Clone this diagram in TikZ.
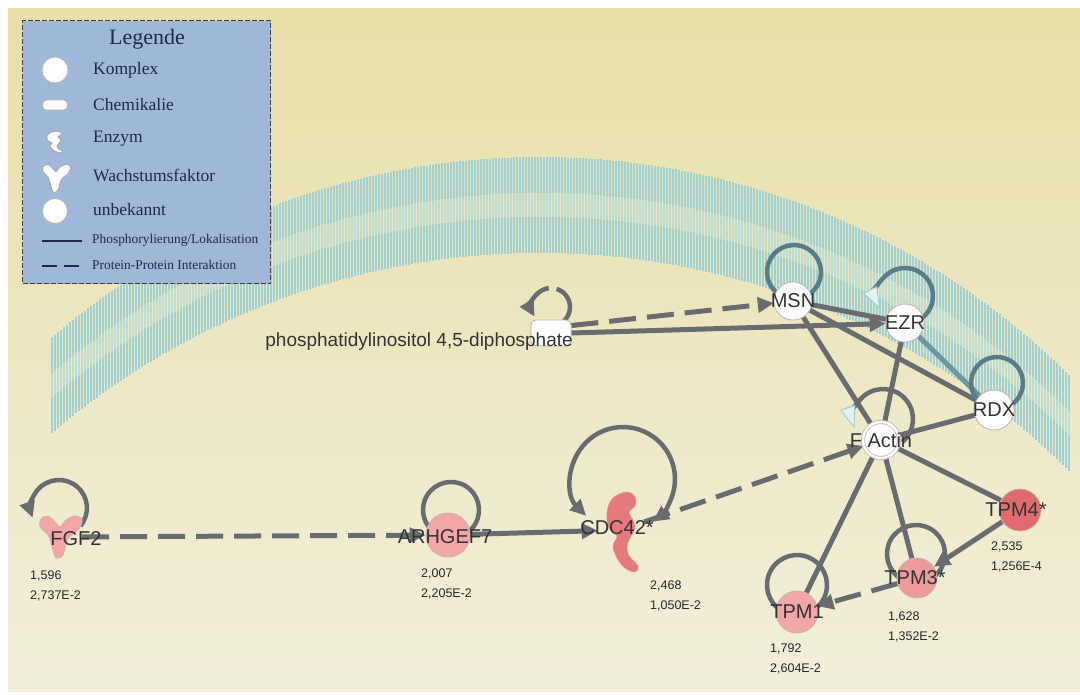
\documentclass[tikz,border=0pt]{standalone}
\usepackage{fontspec}
\setmainfont{Liberation Serif}
\setsansfont{Liberation Sans}
\usetikzlibrary{arrows.meta,backgrounds}

\definecolor{edgegrey}{HTML}{686C6F}
\definecolor{memgrey}{HTML}{587C8A}
\definecolor{memline}{HTML}{6A98A4}
\definecolor{legendblue}{HTML}{9FB7D8}
\definecolor{legendtext}{HTML}{1E2A44}
\definecolor{lipid}{HTML}{9ED0D4}
\definecolor{lipidlight}{HTML}{BCDDD3}
\definecolor{openhead}{HTML}{E4F1F3}
\definecolor{pinkA}{HTML}{F2A6A6}
\definecolor{pinkB}{HTML}{EE9A9A}
\definecolor{redC}{HTML}{E26B6D}
\definecolor{enzred}{HTML}{E8797B}
\definecolor{bgtop}{HTML}{E8DFA8}
\definecolor{bgbot}{HTML}{F2EFDA}

\tikzset{
    molecule/.style={circle,draw=black!28,line width=0.8pt,minimum size=38pt,inner sep=0pt},
    unknown/.style={molecule,fill=white},
    expressed/.style={molecule,draw=red!30!black!30,fill=pinkA},
    chemical/.style={rectangle,rounded corners=5pt,draw=black!30,line width=0.8pt,fill=white,minimum width=40pt,minimum height=26pt},
    shapebox/.style={rectangle,inner sep=0pt},
    lbl/.style={font=\sffamily\fontsize{20}{20}\selectfont,text=black!80,inner sep=0pt},
    foldval/.style={font=\sffamily\fontsize{12.5}{20}\selectfont,align=left,text=black!85,anchor=north west,inner sep=0pt},
    interaction/.style={draw=edgegrey,line width=5pt,dash pattern=on 27pt off 11pt},
    phospho/.style={draw=edgegrey,line width=5pt},
    selfloop/.style={draw=edgegrey,line width=4.5pt},
    toarrow/.style={-{Triangle[length=16pt,width=15pt]}},
    openarrow/.style={-{Triangle[length=22pt,width=16pt,fill=openhead,color=lipid,line width=1pt]}},
    lipidrow/.style={lipid,line width=1.7pt},
    lipidgap/.style={lipidlight,line width=1.5pt},
    legendbox/.style={draw=black!75,dash pattern=on 5pt off 2pt,line width=1.2pt,fill=legendblue,anchor=north west},
    legendhead/.style={font=\rmfamily\fontsize{22}{22}\selectfont,text=legendtext},
    legendentry/.style={font=\rmfamily\fontsize{17.5}{18}\selectfont,text=legendtext,anchor=west,inner sep=0pt},
    legendsmall/.style={font=\rmfamily\fontsize{13.4}{14}\selectfont,text=legendtext,anchor=west,inner sep=0pt},
    legendglyph/.style={fill=white,draw=black!35,line width=0.8pt},
    legendline/.style={draw=legendtext,line width=2.6pt},
    enzyme/.pic={
        \filldraw[pic actions] plot[smooth cycle,tension=0.6] coordinates {
            (4,-40) (12,-35) (12,-26) (6,-20) (10,-12) (12,-4) (8,4) (4,14)
            (6,24) (15,34) (12,40) (2,36) (-6,26) (-10,14) (-6,4) (-14,-4)
            (-16,-20) (-10,-34)};
    },
    growthfactor/.pic={
        \filldraw[pic actions] plot[smooth cycle,tension=0.6] coordinates {
            (-19,-16) (-12,-19) (-4,-12) (0,-8) (5,-14) (14,-19) (22,-16)
            (19,-6) (8,4) (3,20) (-4,23) (-8,12) (-12,0) (-20,-8)};
    }
}

\begin{document}
\begin{tikzpicture}[x=1pt,y=-1pt]
\useasboundingbox (0,0) rectangle (1080,695);

% legend
\node[legendbox,minimum width=248pt,minimum height=263pt] (legend) at (22,20) {};
\node[legendhead] (legtitle) at (147,39) {Legende};
\node[unknown,minimum size=26pt] (legkomplex) at (55,70) {};
\node[legendentry] (legkomplexlbl) at (93,70) {Komplex};
\node[chemical,minimum width=25pt,minimum height=10pt,rounded corners=4pt] (legchem) at (55,105) {};
\node[legendentry] (legchemlbl) at (93,105) {Chemikalie};
\pic[legendglyph,xscale=0.5,yscale=0.27] at (55,142) {enzyme};
\node[legendentry] (legenzlbl) at (93,139) {Enzym};
\pic[legendglyph,scale=0.66] at (56,177) {growthfactor};
\node[legendentry] (leggflbl) at (93,175) {Wachstumsfaktor};
\node[unknown,minimum size=25pt] (legunknown) at (55,211) {};
\node[legendentry] (legunknownlbl) at (93,210) {unbekannt};
\draw[legendline] (42,241) -- (82,241);
\node[legendsmall] (legphospholbl) at (92,240) {Phosphorylierung/Lokalisation};
\draw[legendline,dash pattern=on 15pt off 7pt] (42,266) -- (82,266);
\node[legendsmall] (legppilbl) at (92,265) {Protein-Protein Interaktion};

% molecules
\node[chemical] (PIP2) at (551,333) {};
\node[lbl,anchor=east,font=\sffamily\fontsize{19}{19}\selectfont] (PIP2lbl) at (573,342) {phosphatidylinositol 4,5-diphosphate};
\node[unknown,label={[lbl]center:MSN}] (MSN) at (793,301) {};
\node[unknown,label={[lbl]center:EZR}] (EZR) at (905,323) {};
\node[unknown,minimum size=40pt,label={[lbl]center:RDX}] (RDX) at (994,410) {};
\node[unknown,minimum size=36pt,double=white,double distance=2.5pt,label={[lbl]center:F Actin}] (FActin) at (881,440) {};
\node[expressed,minimum size=42pt,fill=redC,label={[lbl,xshift=-4pt]center:TPM4*}] (TPM4) at (1020,510) {};
\node[expressed,minimum size=40pt,fill=pinkB,label={[lbl,xshift=-2pt]center:TPM3*}] (TPM3) at (917,578) {};
\node[expressed,minimum size=42pt,label={[lbl]center:TPM1}] (TPM1) at (797,612) {};
\node[expressed,minimum size=44pt,label={[lbl,xshift=-3pt,yshift=-2pt]center:ARHGEF7}] (ARHGEF7) at (448,535) {};
\pic[fill=enzred,draw=red!60!black!40,line width=0.6pt] at (623,532) {enzyme};
\node[shapebox,minimum width=46pt,minimum height=50pt,label={[lbl,xshift=-4pt,yshift=2pt]center:CDC42*}] (CDC42) at (621,530) {};
\pic[fill=pinkA,draw=red!30!black!30,line width=0.6pt] at (60,535) {growthfactor};
\node[shapebox,minimum width=40pt,minimum height=40pt,label={[lbl,xshift=14pt,yshift=-2pt]center:FGF2}] (FGF2) at (62,537) {};

% fold change / p-value
\node[foldval] (FGF2val) at (30,571) {1,596\\2,737E-2};
\node[foldval] (ARHGEF7val) at (421,569) {2,007\\2,205E-2};
\node[foldval] (CDC42val) at (650,581) {2,468\\1,050E-2};
\node[foldval] (TPM1val) at (770,644) {1,792\\2,604E-2};
\node[foldval] (TPM3val) at (888,612) {1,628\\1,352E-2};
\node[foldval] (TPM4val) at (991,542) {2,535\\1,256E-4};

\begin{scope}[on background layer]
\fill[white] (0,0) rectangle (1080,695);
\shade[top color=bgtop,bottom color=bgbot] (8,9) rectangle (1080,691);
% lipid bilayer
\foreach \x in {52,55,...,1069}{
    \pgfmathsetmacro{\yo}{908-100*sqrt(56.4-((\x-540)/100)^2)}
    \draw[lipidrow] (\x,\yo) -- (\x,\yo+36);
    \draw[lipidgap] (\x,\yo+36) -- (\x,\yo+60);
    \draw[lipidrow] (\x,\yo+60) -- (\x,\yo+96);
}
% edges
\draw[interaction,toarrow] (PIP2.20) -- (MSN);
\draw[phospho,toarrow] (PIP2.east) -- (EZR);
\draw[phospho] (MSN) -- (EZR);
\draw[phospho] (MSN) -- (RDX);
\draw[phospho] (MSN) -- (FActin);
\draw[phospho] (EZR) -- (FActin);
\draw[phospho,draw=memline] (EZR) -- (RDX);
\draw[phospho] (RDX) -- (FActin);
\draw[phospho] (FActin) -- (TPM4);
\draw[phospho] (FActin) -- (TPM3);
\draw[phospho] (FActin) -- (TPM1);
\draw[phospho,toarrow] (TPM4) -- (TPM3);
\draw[interaction,toarrow] (TPM3) -- (TPM1);
\draw[interaction,toarrow] (CDC42) -- (FActin);
\draw[phospho,toarrow] (ARHGEF7) -- (CDC42);
\draw[interaction,toarrow] (FGF2) -- (ARHGEF7);
% self loops
\draw[selfloop,toarrow,dash pattern=on 44pt off 8pt on 80pt] (PIP2.center) ++(9.5,-9.5) arc[start angle=60,end angle=-210,radius=19];
\draw[selfloop,draw=memgrey] (MSN.center) ++(-12.5,-5.6) arc[start angle=120,end angle=420,radius=27];
\draw[selfloop,draw=memgrey,openarrow] (EZR.center) ++(14,-2.8) arc[start angle=60,end angle=-208,radius=28];
\draw[selfloop,draw=memgrey] (RDX.center) ++(-10,-4.5) arc[start angle=120,end angle=420,radius=26];
\draw[selfloop,openarrow] (FActin.center) ++(21.3,2) arc[start angle=50,end angle=-198,radius=30];
\draw[selfloop] (TPM3.center) ++(-15.5,1.1) arc[start angle=120,end angle=420,radius=29];
\draw[selfloop] (TPM1.center) ++(-15,-1) arc[start angle=120,end angle=420,radius=30];
\draw[selfloop] (ARHGEF7.center) ++(-11,-0.8) arc[start angle=120,end angle=420,radius=28];
\draw[selfloop,{Triangle[length=16pt,width=15pt]}-{Triangle[length=16pt,width=15pt]}] (CDC42.center) ++(-34.8,-14.2) arc[start angle=135,end angle=415,radius=52];
\draw[selfloop,toarrow] (FGF2.center) ++(18.4,-11) arc[start angle=40,end angle=-200,radius=28];
\end{scope}
\end{tikzpicture}
\end{document}
